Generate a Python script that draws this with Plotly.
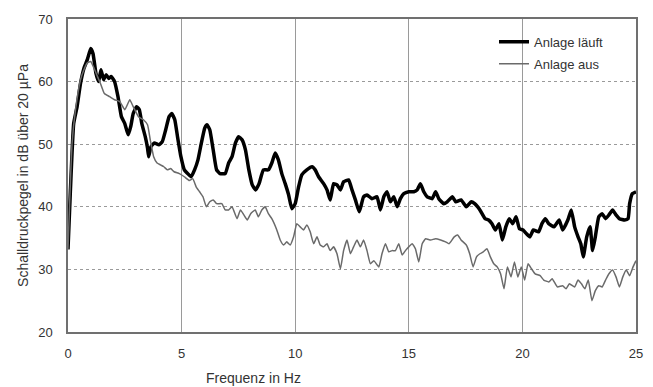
import plotly.graph_objects as go

# --- data: "Anlage läuft" (system running) ---
freq_an = [0, 0.1, 0.25, 0.4, 0.55, 0.7, 0.85, 1.0, 1.1, 1.23, 1.35, 1.45, 1.57, 1.68, 1.8, 1.9,
           2.05, 2.2, 2.35, 2.5, 2.65, 2.76, 2.87, 3.02, 3.14, 3.25, 3.4, 3.5, 3.55, 3.65, 3.8,
           4.0, 4.15, 4.3, 4.45, 4.57, 4.7, 4.82, 4.97, 5.12, 5.27, 5.42, 5.57, 5.72, 5.87,
           6.02, 6.12, 6.24, 6.39, 6.54, 6.69, 6.92, 7.07, 7.22, 7.37, 7.51, 7.66, 7.81, 7.96,
           8.11, 8.26, 8.41, 8.6, 8.82, 8.97, 9.12, 9.26, 9.41, 9.56, 9.71, 9.85, 10.0, 10.15,
           10.29, 10.51, 10.74, 10.88, 11.03, 11.25, 11.4, 11.54, 11.69, 11.84, 11.99, 12.13,
           12.35, 12.5, 12.65, 12.82, 13.01, 13.16, 13.38, 13.6, 13.75, 13.9, 14.04, 14.19,
           14.34, 14.49, 14.63, 14.78, 15.0, 15.22, 15.37, 15.51, 15.66, 15.81, 16.03, 16.18,
           16.32, 16.54, 16.69, 16.92, 17.07, 17.3, 17.53, 17.75, 17.9, 18.13, 18.36, 18.51,
           18.66, 18.81, 18.97, 19.12, 19.27, 19.42, 19.57, 19.72, 19.87, 20.03, 20.18, 20.33,
           20.48, 20.71, 20.86, 21.01, 21.16, 21.39, 21.62, 21.77, 22.0, 22.15, 22.3, 22.45,
           22.57, 22.68, 22.83, 22.98, 23.09, 23.21, 23.36, 23.51, 23.66, 23.81, 23.97, 24.12,
           24.27, 24.5, 24.65, 24.72, 24.84, 25.0]
level_an = [33.2, 42.1, 53.3, 56.0, 59.7, 62.1, 63.5, 65.3, 64.5, 61.3, 60.0, 61.9, 60.3, 61.1, 60.5, 60.8,
            60.0, 57.6, 54.4, 53.3, 51.5, 52.8, 54.9, 56.0, 55.5, 53.3, 51.2, 49.4, 48.0, 49.6, 50.2,
            49.9, 50.4, 52.3, 54.4, 54.9, 53.9, 51.2, 48.0, 45.9, 45.3, 44.8, 45.9, 47.5, 50.2,
            52.6, 53.1, 52.3, 49.1, 45.9, 45.3, 45.3, 47.0, 48.0, 50.2, 51.2, 50.7, 49.1, 45.9,
            43.5, 42.7, 43.7, 45.9, 45.9, 47.0, 48.6, 47.5, 45.3, 43.7, 41.9, 39.7, 40.5, 43.2,
            45.1, 45.9, 46.4, 45.9, 44.8, 43.7, 42.7, 41.1, 43.7, 43.5, 42.7, 44.0,
            44.3, 42.7, 41.1, 39.2, 41.6, 41.9, 41.3, 41.6, 39.5, 41.6, 42.4, 40.8,
            41.6, 40.0, 41.3, 42.1, 42.4, 42.4, 42.7, 43.7, 42.4, 41.6, 41.3, 42.4,
            41.3, 40.5, 40.8, 41.6, 40.8, 41.1, 40.0, 40.8, 40.5, 39.5, 38.1, 37.9,
            37.3, 36.3, 37.3, 34.7, 36.8, 38.1, 37.3, 38.4, 36.5, 36.3, 35.7, 35.2,
            36.3, 36.0, 37.3, 38.1, 37.3, 36.8, 37.9, 36.3, 37.9, 39.5, 36.8, 35.2,
            34.1, 32.0, 35.2, 36.8, 33.0, 35.2, 38.4, 38.9, 38.1, 38.7, 39.5, 38.7,
            38.1, 37.9, 38.1, 40.5, 42.1, 42.4]

# --- data: "Anlage aus" (system off) ---
freq_aus = [0, 0.18, 0.33, 0.55, 0.7, 0.85, 1.0, 1.15, 1.3, 1.45, 1.6, 1.83, 2.05, 2.28, 2.5, 2.72,
            2.87, 3.1, 3.32, 3.5, 3.62, 3.77, 3.92, 4.07, 4.22, 4.37, 4.52, 4.67, 4.9, 5.12, 5.34,
            5.49, 5.64, 5.79, 5.94, 6.09, 6.24, 6.39, 6.54, 6.77, 6.92, 7.07, 7.22, 7.44, 7.59,
            7.74, 7.89, 8.04, 8.24, 8.38, 8.53, 8.68, 8.82, 8.97, 9.19, 9.34, 9.49, 9.63, 9.78,
            9.93, 10.07, 10.22, 10.37, 10.51, 10.66, 10.81, 10.96, 11.1, 11.25, 11.4, 11.54,
            11.69, 11.84, 11.99, 12.13, 12.28, 12.43, 12.57, 12.72, 12.87, 13.01, 13.16, 13.31,
            13.46, 13.68, 13.82, 13.97, 14.12, 14.26, 14.41, 14.56, 14.71, 14.85, 15.0, 15.15,
            15.29, 15.44, 15.59, 15.74, 15.96, 16.18, 16.4, 16.62, 16.77, 17.0, 17.15, 17.3,
            17.53, 17.68, 17.83, 17.98, 18.13, 18.28, 18.44, 18.59, 18.74, 18.89, 19.04, 19.19,
            19.34, 19.5, 19.65, 19.8, 19.95, 20.1, 20.25, 20.4, 20.56, 20.78, 20.94, 21.16,
            21.31, 21.54, 21.77, 21.92, 22.07, 22.3, 22.45, 22.6, 22.75, 22.9, 23.06, 23.21,
            23.36, 23.51, 23.66, 23.81, 23.97, 24.12, 24.27, 24.42, 24.57, 24.72, 24.87, 25.0]
level_aus = [33.2, 50.2, 55.5, 60.3, 61.9, 63.0, 63.2, 62.1, 60.8, 59.5, 58.1, 57.6, 57.1, 56.8, 55.5, 57.1,
             56.0, 54.4, 53.9, 53.1, 50.7, 48.0, 47.0, 46.7, 46.4, 45.9, 46.1, 45.6, 45.3, 44.8, 44.2,
             44.5, 43.2, 42.4, 41.6, 40.0, 40.8, 41.1, 40.5, 40.5, 39.5, 39.5, 40.0, 38.1, 39.5,
             38.7, 37.9, 38.9, 39.5, 38.4, 39.5, 40.0, 38.9, 38.1, 36.3, 34.7, 33.9, 34.4, 33.9,
             35.2, 37.3, 36.8, 36.3, 37.1, 36.0, 34.1, 35.2, 33.9, 33.6, 34.1, 33.0,
             33.6, 32.5, 30.1, 33.0, 34.7, 32.5, 33.6, 34.7, 33.6, 34.7, 33.0, 30.9,
             31.4, 30.4, 32.5, 34.1, 32.8, 33.0, 33.0, 34.1, 32.3, 33.0, 33.6, 34.1,
             33.3, 31.2, 34.1, 34.9, 34.7, 34.9, 34.7, 34.4, 34.1, 35.2, 35.5, 34.7,
             33.9, 32.5, 30.4, 32.0, 32.5, 32.8, 33.3, 32.0, 30.9, 30.4, 29.3, 26.9,
             30.4, 28.8, 31.2, 28.8, 30.4, 28.3, 30.9, 30.1, 29.3, 29.0, 28.3, 28.0,
             28.5, 27.2, 27.4, 26.9, 27.7, 27.2, 28.3, 27.7, 26.9, 28.3, 25.0, 26.6,
             27.4, 27.2, 28.3, 29.3, 29.9, 28.8, 27.2, 28.8, 29.9, 29.0, 30.4, 31.4]

x_ticks = [0, 5, 10, 15, 20, 25]
y_ticks = [20, 30, 40, 50, 60, 70]

FONT = "Liberation Sans, Arial, sans-serif"

fig = go.Figure()
fig.add_trace(go.Scatter(x=freq_an, y=level_an, mode="lines", name="Anlage läuft",
                         legendgroup="a",
                         line=dict(color="#000000", width=3.5, shape="spline", smoothing=0.4)))
fig.add_trace(go.Scatter(x=freq_aus, y=level_aus, mode="lines", name="Anlage aus",
                         legendgroup="b",
                         line=dict(color="#6a6a6a", width=1.5, shape="spline", smoothing=0.4)))

fig.update_layout(
    width=645, height=379,
    margin=dict(l=60, r=17, t=11, b=55, autoexpand=False),
    paper_bgcolor="white", plot_bgcolor="white",
    font=dict(family=FONT, size=13, color="#333333"),
    showlegend=True,
    legend=dict(x=0.75, y=0.975, xanchor="left", yanchor="top",
                bgcolor="rgba(0,0,0,0)", font=dict(size=13, color="#333333"),
                tracegroupgap=2, itemwidth=30),
    xaxis=dict(range=[0, 25], tickvals=x_ticks, ticks="", showgrid=True, automargin=False,
               gridcolor="#9a9a9a", gridwidth=1, zeroline=False,
               showline=True, mirror=True, linecolor="#707070", linewidth=1.5,
               tickfont=dict(size=13, color="#333333"), ticklabelstandoff=9),
    yaxis=dict(range=[20, 70], tickvals=y_ticks, ticks="", showgrid=True, automargin=False,
               gridcolor="#9a9a9a", gridwidth=1, griddash="dot", zeroline=False,
               showline=True, mirror=True, linecolor="#707070", linewidth=1.5,
               tickfont=dict(size=13, color="#333333"), ticklabelstandoff=11,
               title=dict(text="Schalldruckpegel in dB über 20 µPa", standoff=6,
                          font=dict(size=14, color="#333333"))),
    annotations=[dict(text="Frequenz in Hz", xref="paper", yref="paper",
                      x=(253 - 68) / 568, y=0, yshift=-46, xanchor="center", yanchor="middle",
                      showarrow=False, font=dict(size=14, color="#333333"))],
)

fig.write_html("out.html")
